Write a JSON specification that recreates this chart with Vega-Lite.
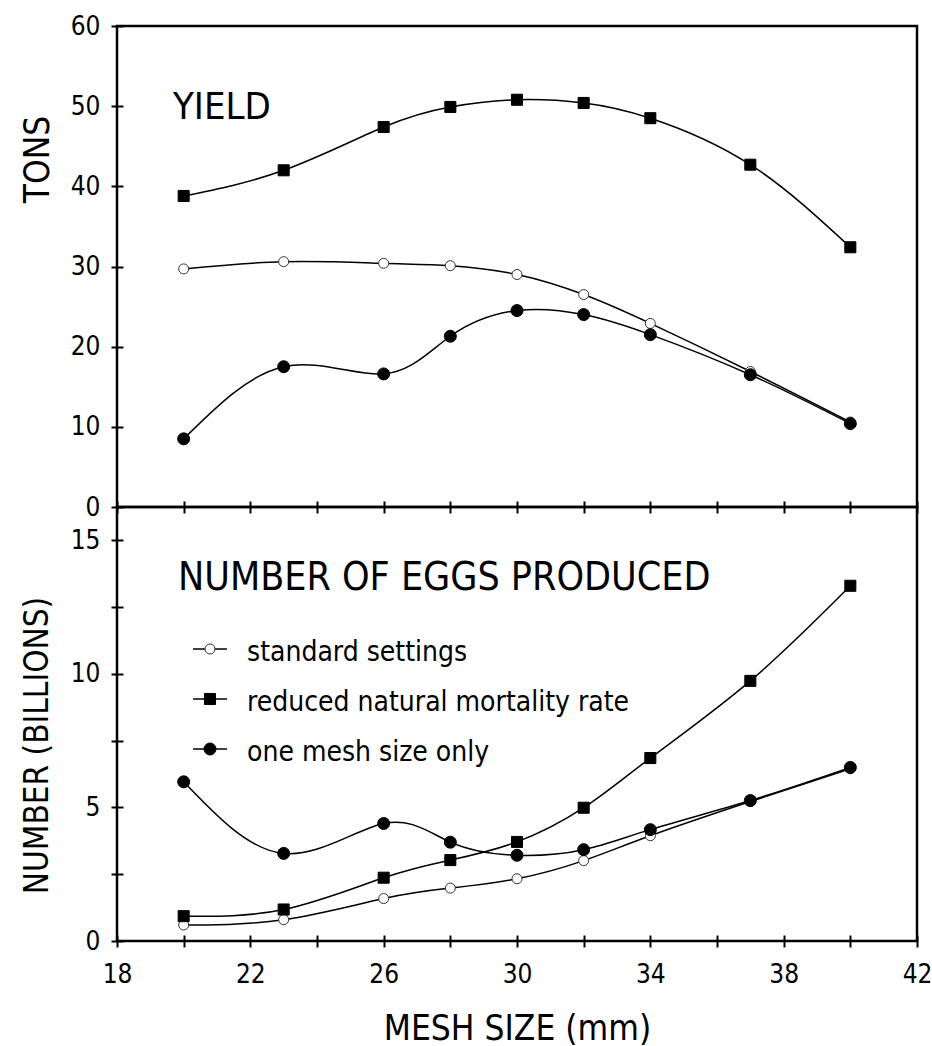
{
  "$schema": "https://vega.github.io/schema/vega-lite/v6.json",
  "background": "white",
  "padding": {"left": 18, "top": 11, "right": 0, "bottom": 0},
  "config": {
    "font": "DejaVu Sans Condensed, Liberation Sans, sans-serif",
    "view": {"stroke": "black", "strokeWidth": 2.5},
    "axis": {
      "labelFont": "DejaVu Sans Condensed, Liberation Sans, sans-serif",
      "labelFontSize": 26,
      "labelColor": "black",
      "titleFont": "DejaVu Sans Condensed, Liberation Sans, sans-serif",
      "titleFontWeight": "normal",
      "titleColor": "black",
      "tickColor": "black",
      "tickWidth": 2,
      "grid": false,
      "labelFlush": false,
      "domain": false
    }
  },
  "datasets": {
    "legendrows": [
      {"series": "standard settings"},
      {"series": "reduced natural mortality rate"},
      {"series": "one mesh size only"}
    ],
    "yield": [
      {"series": "standard settings", "mesh": 20, "value": 29.7},
      {"series": "standard settings", "mesh": 23, "value": 30.6},
      {"series": "standard settings", "mesh": 26, "value": 30.4},
      {"series": "standard settings", "mesh": 28, "value": 30.1},
      {"series": "standard settings", "mesh": 30, "value": 29.0},
      {"series": "standard settings", "mesh": 32, "value": 26.5},
      {"series": "standard settings", "mesh": 34, "value": 22.9},
      {"series": "standard settings", "mesh": 37, "value": 16.9},
      {"series": "standard settings", "mesh": 40, "value": 10.6},
      {"series": "reduced natural mortality rate", "mesh": 20, "value": 38.8},
      {"series": "reduced natural mortality rate", "mesh": 23, "value": 42.0},
      {"series": "reduced natural mortality rate", "mesh": 26, "value": 47.4},
      {"series": "reduced natural mortality rate", "mesh": 28, "value": 49.9},
      {"series": "reduced natural mortality rate", "mesh": 30, "value": 50.8},
      {"series": "reduced natural mortality rate", "mesh": 32, "value": 50.4},
      {"series": "reduced natural mortality rate", "mesh": 34, "value": 48.5},
      {"series": "reduced natural mortality rate", "mesh": 37, "value": 42.7},
      {"series": "reduced natural mortality rate", "mesh": 40, "value": 32.4},
      {"series": "one mesh size only", "mesh": 20, "value": 8.5},
      {"series": "one mesh size only", "mesh": 23, "value": 17.5},
      {"series": "one mesh size only", "mesh": 26, "value": 16.6},
      {"series": "one mesh size only", "mesh": 28, "value": 21.3},
      {"series": "one mesh size only", "mesh": 30, "value": 24.5},
      {"series": "one mesh size only", "mesh": 32, "value": 24.0},
      {"series": "one mesh size only", "mesh": 34, "value": 21.5},
      {"series": "one mesh size only", "mesh": 37, "value": 16.5},
      {"series": "one mesh size only", "mesh": 40, "value": 10.4}
    ],
    "eggs": [
      {"series": "standard settings", "mesh": 20, "value": 0.6},
      {"series": "standard settings", "mesh": 23, "value": 0.8},
      {"series": "standard settings", "mesh": 26, "value": 1.59},
      {"series": "standard settings", "mesh": 28, "value": 1.98},
      {"series": "standard settings", "mesh": 30, "value": 2.33},
      {"series": "standard settings", "mesh": 32, "value": 3.01},
      {"series": "standard settings", "mesh": 34, "value": 3.94},
      {"series": "standard settings", "mesh": 37, "value": 5.22},
      {"series": "standard settings", "mesh": 40, "value": 6.45},
      {"series": "reduced natural mortality rate", "mesh": 20, "value": 0.93},
      {"series": "reduced natural mortality rate", "mesh": 23, "value": 1.18},
      {"series": "reduced natural mortality rate", "mesh": 26, "value": 2.37},
      {"series": "reduced natural mortality rate", "mesh": 28, "value": 3.03},
      {"series": "reduced natural mortality rate", "mesh": 30, "value": 3.71},
      {"series": "reduced natural mortality rate", "mesh": 32, "value": 4.99},
      {"series": "reduced natural mortality rate", "mesh": 34, "value": 6.85},
      {"series": "reduced natural mortality rate", "mesh": 37, "value": 9.74},
      {"series": "reduced natural mortality rate", "mesh": 40, "value": 13.3},
      {"series": "one mesh size only", "mesh": 20, "value": 5.96},
      {"series": "one mesh size only", "mesh": 23, "value": 3.28},
      {"series": "one mesh size only", "mesh": 26, "value": 4.40},
      {"series": "one mesh size only", "mesh": 28, "value": 3.70},
      {"series": "one mesh size only", "mesh": 30, "value": 3.21},
      {"series": "one mesh size only", "mesh": 32, "value": 3.42},
      {"series": "one mesh size only", "mesh": 34, "value": 4.17},
      {"series": "one mesh size only", "mesh": 37, "value": 5.26},
      {"series": "one mesh size only", "mesh": 40, "value": 6.50}
    ]
  },
  "spacing": 0,
  "bounds": "flush",
  "resolve": {
    "scale": {"shape": "independent", "fill": "independent", "stroke": "independent", "size": "independent"},
    "legend": {"shape": "independent", "fill": "independent", "stroke": "independent", "size": "independent"}
  },
  "vconcat": [
    {
      "width": 800,
      "height": 481,
      "data": {"name": "yield"},
      "layer": [
        {
          "mark": {"type": "line", "interpolate": "natural", "color": "black", "strokeWidth": 1.5},
          "encoding": {
            "x": {"field": "mesh", "type": "quantitative", "scale": {"domain": [18, 42], "nice": false},
              "axis": {"values": [18,19,20,21,22,23,24,25,26,27,28,29,30,31,32,33,34,35,36,37,38,39,40,41,42],
                "labels": false, "offset": -6, "tickSize": 12, "title": null}},
            "y": {"field": "value", "type": "quantitative", "scale": {"domain": [0, 60], "nice": false},
              "axis": {"values": [0, 10, 20, 30, 40, 50, 60], "offset": -6, "tickSize": 12, "labelPadding": 11,
                "title": "TONS", "titleFontSize": 35, "titleAngle": -90, "titleAlign": "center", "titleBaseline": "middle",
                "titleX": -86, "titleY": 133}},
            "detail": {"field": "series"}
          }
        },
        {
          "mark": {"type": "point", "filled": true, "opacity": 1, "strokeWidth": 1},
          "encoding": {
            "x": {"field": "mesh", "type": "quantitative"},
            "y": {"field": "value", "type": "quantitative"},
            "shape": {"field": "series", "scale": {"domain": ["standard settings", "reduced natural mortality rate", "one mesh size only"], "range": ["circle", "square", "circle"]}, "legend": null},
            "fill": {"field": "series", "scale": {"domain": ["standard settings", "reduced natural mortality rate", "one mesh size only"], "range": ["white", "black", "black"]}, "legend": null},
            "stroke": {"field": "series", "scale": {"domain": ["standard settings", "reduced natural mortality rate", "one mesh size only"], "range": ["#333333", "black", "black"]}, "legend": null},
            "size": {"field": "series", "scale": {"domain": ["standard settings", "reduced natural mortality rate", "one mesh size only"], "range": [100, 144, 115]}, "legend": null}
          }
        },
        {
          "data": {"values": [{"label": "YIELD"}]},
          "mark": {"type": "text", "align": "left", "baseline": "alphabetic", "fontSize": 38, "color": "black"},
          "encoding": {
            "x": {"datum": 19.68, "type": "quantitative"},
            "y": {"datum": 48.4, "type": "quantitative"},
            "text": {"field": "label"}
          }
        }
      ]
    },
    {
      "width": 800,
      "height": 434,
      "resolve": {"scale": {"y": "independent"}},
      "layer": [
        {
          "data": {"name": "eggs"},
          "layer": [
            {
              "mark": {"type": "line", "interpolate": "natural", "color": "black", "strokeWidth": 1.5},
              "encoding": {
                "x": {"field": "mesh", "type": "quantitative", "scale": {"domain": [18, 42], "nice": false},
                  "axis": {"values": [18,19,20,21,22,23,24,25,26,27,28,29,30,31,32,33,34,35,36,37,38,39,40,41,42],
                    "labelExpr": "(datum.value - 18) % 4 === 0 ? datum.label : ''",
                    "offset": -6, "tickSize": 12, "labelPadding": 14,
                    "title": "MESH SIZE (mm)", "titleFontSize": 35, "titleBaseline": "alphabetic", "titleY": 104}},
                "y": {"field": "value", "type": "quantitative", "scale": {"domain": [0, 16.25], "nice": false},
                  "axis": {"values": [0, 2.5, 5, 7.5, 10, 12.5, 15], "labelExpr": "datum.value % 5 === 0 ? datum.label : ''",
                    "offset": -6, "tickSize": 12, "labelPadding": 11,
                    "title": "NUMBER (BILLIONS)", "titleFontSize": 33, "titleAngle": -90, "titleAlign": "center", "titleBaseline": "middle",
                    "titleX": -86, "titleY": 238}},
                "detail": {"field": "series"}
              }
            },
            {
              "mark": {"type": "point", "filled": true, "opacity": 1, "strokeWidth": 1},
              "encoding": {
                "x": {"field": "mesh", "type": "quantitative"},
                "y": {"field": "value", "type": "quantitative"},
                "shape": {"field": "series", "scale": {"domain": ["standard settings", "reduced natural mortality rate", "one mesh size only"], "range": ["circle", "square", "circle"]}, "legend": null},
                "fill": {"field": "series", "scale": {"domain": ["standard settings", "reduced natural mortality rate", "one mesh size only"], "range": ["white", "black", "black"]}, "legend": null},
                "stroke": {"field": "series", "scale": {"domain": ["standard settings", "reduced natural mortality rate", "one mesh size only"], "range": ["#333333", "black", "black"]}, "legend": null},
                "size": {"field": "series", "scale": {"domain": ["standard settings", "reduced natural mortality rate", "one mesh size only"], "range": [100, 144, 115]}, "legend": null}
              }
            },
            {
              "data": {"values": [{"label": "NUMBER OF EGGS PRODUCED"}]},
              "mark": {"type": "text", "align": "left", "baseline": "alphabetic", "fontSize": 39, "color": "black"},
              "encoding": {
                "x": {"datum": 19.83, "type": "quantitative"},
                "y": {"datum": 13.15, "type": "quantitative"},
                "text": {"field": "label"}
              }
            }
          ]
        },
        {
          "data": {"name": "legendrows"},
          "layer": [
            {
              "mark": {"type": "rule", "color": "black", "strokeWidth": 1.5},
              "encoding": {
                "x": {"datum": 20.28, "type": "quantitative"},
                "x2": {"datum": 21.3},
                "y": {"field": "series", "type": "nominal", "axis": null,
                  "scale": {"type": "point", "domain": ["standard settings", "reduced natural mortality rate", "one mesh size only"], "range": [142, 242], "padding": 0}}
              }
            },
            {
              "mark": {"type": "point", "filled": true, "opacity": 1, "strokeWidth": 1},
              "encoding": {
                "x": {"datum": 20.79, "type": "quantitative"},
                "y": {"field": "series", "type": "nominal", "axis": null},
                "shape": {"field": "series", "scale": {"domain": ["standard settings", "reduced natural mortality rate", "one mesh size only"], "range": ["circle", "square", "circle"]}, "legend": null},
                "fill": {"field": "series", "scale": {"domain": ["standard settings", "reduced natural mortality rate", "one mesh size only"], "range": ["white", "black", "black"]}, "legend": null},
                "stroke": {"field": "series", "scale": {"domain": ["standard settings", "reduced natural mortality rate", "one mesh size only"], "range": ["#333333", "black", "black"]}, "legend": null},
                "size": {"field": "series", "scale": {"domain": ["standard settings", "reduced natural mortality rate", "one mesh size only"], "range": [100, 144, 115]}, "legend": null}
              }
            },
            {
              "mark": {"type": "text", "align": "left", "baseline": "alphabetic", "dy": 12, "fontSize": 28, "color": "black"},
              "encoding": {
                "x": {"datum": 21.9, "type": "quantitative"},
                "y": {"field": "series", "type": "nominal", "axis": null},
                "text": {"field": "series"}
              }
            }
          ]
        }
      ]
    }
  ]
}
